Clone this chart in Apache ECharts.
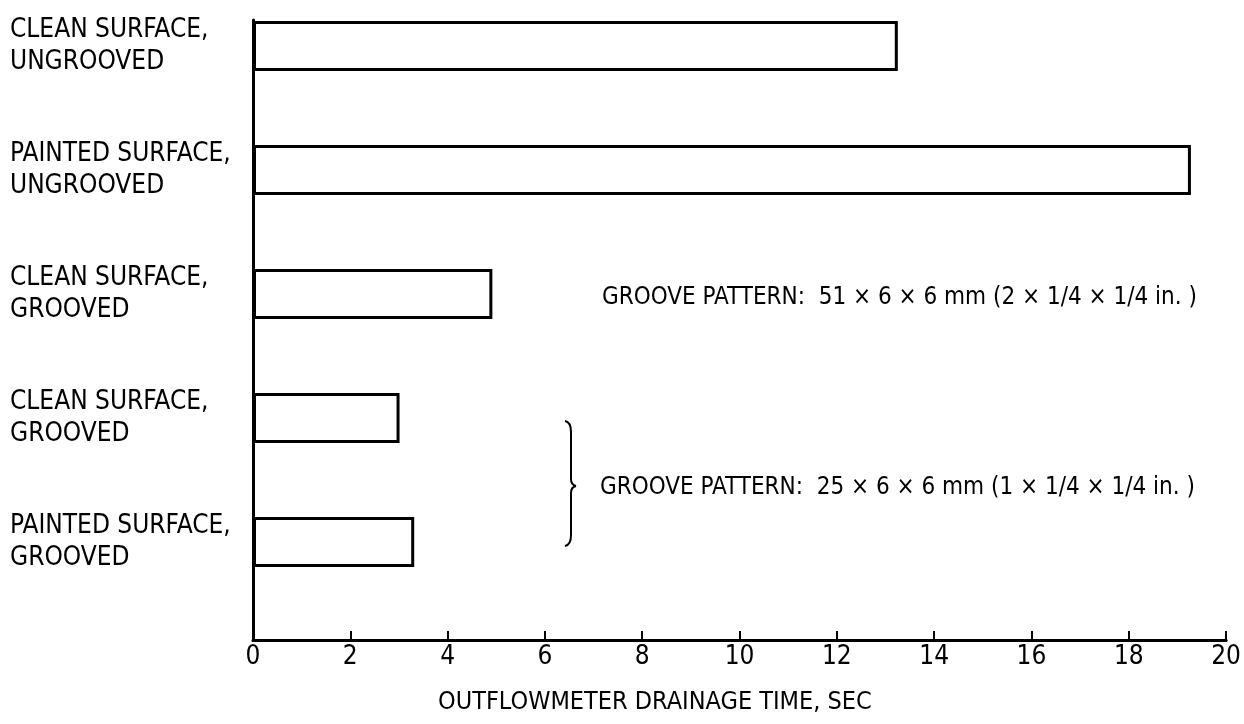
<!DOCTYPE html>
<html>
<head>
<meta charset="utf-8">
<script src="https://cdn.jsdelivr.net/npm/echarts@6/dist/echarts.min.js"></script>
<style>
html,body{margin:0;padding:0;background:#fff;}
#chart{width:1244px;height:724px;}
</style>
</head>
<body>
<div id="chart"></div>
<script>
var categories = [
  'CLEAN SURFACE,\nUNGROOVED',
  'PAINTED SURFACE,\nUNGROOVED',
  'CLEAN SURFACE,\nGROOVED',
  'CLEAN SURFACE,\nGROOVED',
  'PAINTED SURFACE,\nGROOVED'
];
var drainageTime = [13.2, 19.2, 4.9, 3.0, 3.3];
var xTicks = [0, 2, 4, 6, 8, 10, 12, 14, 16, 18, 20];
var axisTitle = 'OUTFLOWMETER DRAINAGE TIME, SEC';
var note1 = 'GROOVE PATTERN:  51 \u00d7 6 \u00d7 6 mm (2 \u00d7 1/4 \u00d7 1/4 in. )';
var note2 = 'GROOVE PATTERN:  25 \u00d7 6 \u00d7 6 mm (1 \u00d7 1/4 \u00d7 1/4 in. )';

var FONT = '"Liberation Sans Narrow", "DejaVu Sans Condensed", "Arial Narrow", sans-serif';
var chart = echarts.init(document.getElementById('chart'), null, {renderer: 'canvas'});

var braceStyle = {stroke: '#000', lineWidth: 2, fill: null};
var option = {
  backgroundColor: '#fff',
  animation: false,
  grid: [
    {left: 253, right: 14, top: 46, height: 496},
    {left: 253, right: 14, top: 20, bottom: 84}
  ],
  xAxis: [
    {gridIndex: 0, type: 'value', min: 0, max: 20, interval: 2, show: false},
    {
      gridIndex: 1, type: 'value', min: xTicks[0], max: xTicks[xTicks.length - 1], interval: 2,
      axisLine: {show: true, lineStyle: {color: '#000', width: 3}},
      axisTick: {show: true, inside: true, length: 9, lineStyle: {color: '#000', width: 2}},
      axisLabel: {color: '#000', fontSize: 26, fontFamily: FONT, margin: 4},
      splitLine: {show: false}
    }
  ],
  yAxis: [
    {
      gridIndex: 0, type: 'category', inverse: true, data: categories, boundaryGap: false,
      axisLine: {show: false}, axisTick: {show: false},
      axisLabel: {
        color: '#000', fontSize: 26, fontFamily: FONT, lineHeight: 32,
        align: 'left', margin: 243
      }
    },
    {
      gridIndex: 1, type: 'value', min: 0, max: 1,
      axisLine: {show: true, lineStyle: {color: '#000', width: 3}},
      axisTick: {show: false}, axisLabel: {show: false}, splitLine: {show: false}
    }
  ],
  series: [{
    type: 'bar',
    xAxisIndex: 0, yAxisIndex: 0,
    data: drainageTime,
    barWidth: 50,
    clip: false,
    itemStyle: {color: '#fff', borderColor: '#000', borderWidth: 3}
  }],
  graphic: [
    {type: 'text', x: 438, y: 690, style: {text: axisTitle, fill: '#000', font: '25px ' + FONT, textVerticalAlign: 'top'}},
    {type: 'text', x: 602, y: 286, style: {text: note1, fill: '#000', font: '24px ' + FONT, textVerticalAlign: 'top'}},
    {type: 'text', x: 600, y: 476, style: {text: note2, fill: '#000', font: '24px ' + FONT, textVerticalAlign: 'top'}},
    {type: 'bezierCurve', shape: {x1: 565, y1: 421, x2: 571, y2: 432, cpx1: 571, cpy1: 422}, style: braceStyle},
    {type: 'line', shape: {x1: 571, y1: 432, x2: 571, y2: 479}, style: braceStyle},
    {type: 'bezierCurve', shape: {x1: 571, y1: 479, x2: 576, y2: 486, cpx1: 571, cpy1: 485}, style: braceStyle},
    {type: 'bezierCurve', shape: {x1: 576, y1: 486, x2: 571, y2: 493, cpx1: 571, cpy1: 487}, style: braceStyle},
    {type: 'line', shape: {x1: 571, y1: 493, x2: 571, y2: 535}, style: braceStyle},
    {type: 'bezierCurve', shape: {x1: 571, y1: 535, x2: 565, y2: 546, cpx1: 571, cpy1: 545}, style: braceStyle}
  ]
};
chart.setOption(option);
</script>
</body>
</html>
